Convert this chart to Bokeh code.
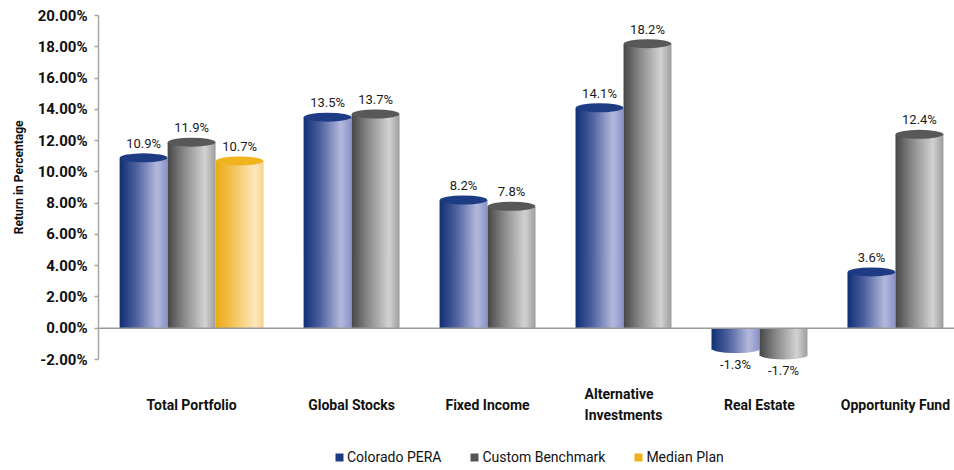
import numpy as np
from bokeh.plotting import figure
from bokeh.core.properties import value
from bokeh.models import (ColumnDataSource, Range1d, FixedTicker, PrintfTickFormatter,
                          Span, LabelSet, Legend, LegendItem, Title)
from bokeh.embed import file_html
from bokeh.resources import INLINE

# ---------------- data ----------------
categories = ["Total Portfolio", "Global Stocks", "Fixed Income",
              "Alternative\nInvestments", "Real Estate", "Opportunity Fund"]
series_names = ["Colorado PERA", "Custom Benchmark", "Median Plan"]
colorado_pera = [10.9, 13.5, 8.2, 14.1, -1.3, 3.6]
custom_benchmark = [11.9, 13.7, 7.8, 18.2, -1.7, 12.4]
median_plan = [10.7, None, None, None, None, None]
y_ticks = [-2, 0, 2, 4, 6, 8, 10, 12, 14, 16, 18, 20]
y_title = "Return in Percentage"

# ---------------- styles ----------------
FONT = "Roboto"
Y0, Y1 = -2.0, 20.0
W, H = 954, 470
TOP, AXIS_BOTTOM = 15, 359
px_per_unit_y = (AXIS_BOTTOM - TOP) / (Y1 - Y0)
Y_BOTTOM = Y0 - (H - AXIS_BOTTOM) / px_per_unit_y
GAP = 0.833          # gap between groups, in bar widths
PAD_L, PAD_R = 0.44, 0.23
NSTRIP = 24
CAP_PX = 9
legend_colors = ["#1c3a7e", "#555555", "#eeb117"]
cap_colors = ["#1d3c84", "#585858", "#f1b41f"]
stops = [
    [(0.0, "#0f2f74"), (0.35, "#4f619f"), (0.78, "#b4b9de"), (1.0, "#8a92c6")],
    [(0.0, "#474747"), (0.35, "#8a8a8a"), (0.78, "#d3d3d3"), (1.0, "#9c9c9c")],
    [(0.0, "#ebaa12"), (0.4, "#f4c660"), (0.82, "#fde7bd"), (1.0, "#f5d390")],
]


def hex2rgb(h):
    h = h.lstrip("#")
    return np.array([int(h[i:i + 2], 16) for i in (0, 2, 4)], dtype=float)


def grad(st, u):
    for (u0, c0), (u1, c1) in zip(st[:-1], st[1:]):
        if u <= u1:
            t = (u - u0) / (u1 - u0)
            c = hex2rgb(c0) * (1 - t) + hex2rgb(c1) * t
            return "#%02x%02x%02x" % tuple(int(round(v)) for v in c)
    return st[-1][1]


all_series = [colorado_pera, custom_benchmark, median_plan]

bars = []   # (center, value, series index)
centers = []
cursor = 0.0
for ci in range(len(categories)):
    present = [si for si in range(3) if all_series[si][ci] is not None]
    for j, si in enumerate(present):
        bars.append((cursor + j + 0.5, all_series[si][ci], si))
    centers.append(cursor + len(present) / 2.0)
    cursor += len(present) + GAP
total = cursor - GAP

p = figure(width=W, height=H, output_backend="svg", toolbar_location=None,
           x_range=Range1d(-PAD_L, total + PAD_R), y_range=Range1d(Y_BOTTOM, Y1),
           x_axis_location=None,
           min_border_left=98, min_border_right=0, min_border_top=TOP,
           min_border_bottom=0, outline_line_color=None,
           background_fill_color="white", border_fill_color="white")
p.xgrid.visible = False
p.ygrid.visible = False

ya = p.yaxis[0]
ya.bounds = (Y0, Y1)
ya.ticker = FixedTicker(ticks=y_ticks)
ya.formatter = PrintfTickFormatter(format="%.2f%%")
ya.major_label_text_font = FONT
ya.major_label_text_font_style = "bold"
ya.major_label_text_font_size = "15px"
ya.major_label_text_color = "#111111"
ya.major_label_standoff = 7
ya.axis_line_color = "#a6a6a6"
ya.axis_line_width = 1.5
ya.major_tick_line_color = "#a6a6a6"
ya.major_tick_line_width = 1.5
ya.major_tick_in = 0
ya.major_tick_out = 4
ya.minor_tick_line_color = None

# y title placed beside the -2%..20% span of the axis
p.add_layout(Title(text=y_title, align="right", offset=105, standoff=18,
                   text_font=FONT, text_font_style="bold", text_font_size="12px",
                   text_color="#111111"), "left")

# cylinder bodies as thin vertical strips
r = (CAP_PX / 2.0) / px_per_unit_y
L, R, T, B, C = [], [], [], [], []
for (xc, v, si) in bars:
    for k in range(NSTRIP):
        u0 = k / NSTRIP
        u1 = (k + 1) / NSTRIP
        um = (u0 + u1) / 2
        left = xc - 0.5 + u0
        right = xc - 0.5 + u1
        if k < NSTRIP - 1:
            right += 0.02
        if v >= 0:
            top, bot = v, 0.0
        else:
            dy = r * np.sqrt(max(0.0, 1 - (2 * um - 1) ** 2))
            top, bot = 0.0, v - dy
        L.append(left); R.append(right); T.append(top); B.append(bot)
        C.append(grad(stops[si], um))
p.quad(left=L, right=R, top=T, bottom=B, fill_color=C, line_color=None)

# top caps of positive cylinders
cx = [b[0] for b in bars if b[1] >= 0]
cy = [b[1] for b in bars if b[1] >= 0]
cc = [cap_colors[b[2]] for b in bars if b[1] >= 0]
p.ellipse(x=cx, y=cy, width=0.99, height=CAP_PX, height_units="screen",
          fill_color=cc, line_color=None)

# zero line
p.add_layout(Span(location=0, dimension="width", line_color="#999999", line_width=1.5))

# value labels
pos = [b for b in bars if b[1] >= 0]
neg = [b for b in bars if b[1] < 0]
src_pos = ColumnDataSource(dict(x=[b[0] for b in pos], y=[b[1] for b in pos],
                                t=["%.1f%%" % b[1] for b in pos]))
src_neg = ColumnDataSource(dict(x=[b[0] for b in neg], y=[b[1] for b in neg],
                                t=["%.1f%%" % b[1] for b in neg]))
common = dict(text_font=value(FONT), text_font_size=value("13px"),
              text_color=value("#1a1a1a"), text_align=value("center"))
p.add_layout(LabelSet(x="x", y="y", text="t", source=src_pos, y_offset=7,
                      text_baseline=value("bottom"), **common))
p.add_layout(LabelSet(x="x", y="y", text="t", source=src_neg, y_offset=-8,
                      text_baseline=value("top"), **common))

# category labels
src_cat = ColumnDataSource(dict(x=centers, y=[Y0 - 45 / px_per_unit_y] * len(centers),
                                t=categories))
p.add_layout(LabelSet(x="x", y="y", text="t", source=src_cat,
                      text_font=value(FONT), text_font_style=value("bold"),
                      text_font_size=value("14px"), text_line_height=value(1.35),
                      text_color=value("#111111"), text_align=value("center"),
                      text_baseline=value("middle")))

# legend
items = []
nan = [float("nan")]
for name, col in zip(series_names, legend_colors):
    rr = p.quad(left=nan, right=nan, top=nan, bottom=nan, fill_color=col, line_color=None)
    items.append(LegendItem(label=name, renderers=[rr]))
legend = Legend(items=items, orientation="horizontal", location=(236, 5),
                glyph_width=10, glyph_height=10, label_standoff=3, spacing=28,
                padding=0, margin=0, border_line_color=None,
                background_fill_alpha=0,
                label_text_font=FONT, label_text_font_size="14px",
                label_text_color="#111111")
p.add_layout(legend, "center")

open("out.html", "w").write(file_html(p, INLINE))
